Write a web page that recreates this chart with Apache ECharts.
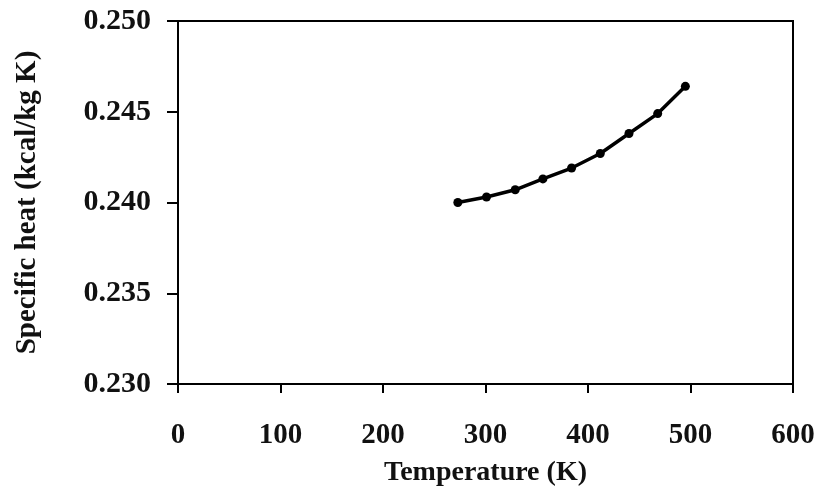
<!DOCTYPE html>
<html>
<head>
<meta charset="utf-8">
<script src="https://cdn.jsdelivr.net/npm/echarts@6/dist/echarts.min.js"></script>
<style>
html,body{margin:0;padding:0;background:#fff;}
#chart{width:823px;height:494px;}
</style>
</head>
<body>
<div id="chart"></div>
<script>
// Data
var temperatureK = [273, 301, 329, 356, 384, 412, 440, 468, 495];
var specificHeat = [0.2400, 0.2403, 0.2407, 0.2413, 0.2419, 0.2427, 0.2438, 0.2449, 0.2464];
var xTickLabels = ['0', '100', '200', '300', '400', '500', '600'];
var yTickLabels = ['0.230', '0.235', '0.240', '0.245', '0.250'];
var xTitle = 'Temperature (K)';
var yTitle = 'Specific heat (kcal/kg K)';

var points = temperatureK.map(function (t, i) { return [t, specificHeat[i]]; });
var FONT = '"Liberation Serif", "Times New Roman", serif';

var chart = echarts.init(document.getElementById('chart'));
chart.setOption({
  backgroundColor: '#ffffff',
  animation: false,
  grid: {
    left: 178, right: 30, top: 21, bottom: 110,
    show: true, borderColor: '#000', borderWidth: 2, backgroundColor: 'transparent'
  },
  xAxis: {
    type: 'value', min: 0, max: 600, interval: 100,
    name: xTitle, nameLocation: 'middle', nameGap: 75,
    nameTextStyle: { fontFamily: FONT, fontSize: 28, fontWeight: 'bold', color: '#111' },
    axisLine: { show: true, lineStyle: { color: '#000', width: 2 } },
    axisTick: { show: true, length: 9, inside: false, lineStyle: { color: '#000', width: 2 } },
    splitLine: { show: false },
    axisLabel: {
      fontFamily: FONT, fontSize: 29, fontWeight: 'bold', color: '#111', margin: 37,
      formatter: function (v, i) { return xTickLabels[i]; }
    }
  },
  yAxis: {
    type: 'value', min: 0.230, max: 0.250, interval: 0.005,
    name: yTitle, nameLocation: 'middle', nameGap: 136, nameRotate: 90,
    nameTextStyle: { fontFamily: FONT, fontSize: 29, fontWeight: 'bold', color: '#111' },
    axisLine: { show: true, lineStyle: { color: '#000', width: 2 } },
    axisTick: { show: true, length: 11, inside: false, lineStyle: { color: '#000', width: 2 } },
    splitLine: { show: false },
    axisLabel: {
      fontFamily: FONT, fontSize: 30, fontWeight: 'bold', color: '#111', margin: 27,
      formatter: function (v, i) { return yTickLabels[i]; }
    }
  },
  series: [{
    type: 'line',
    data: points,
    symbol: 'circle',
    symbolSize: 9,
    lineStyle: { color: '#000', width: 3.5 },
    itemStyle: { color: '#000' }
  }]
});
</script>
</body>
</html>
